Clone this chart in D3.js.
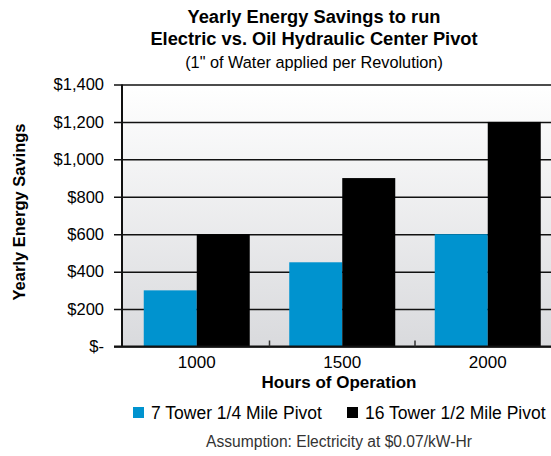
<!DOCTYPE html>
<html>
<head>
<meta charset="utf-8">
<script src="https://cdn.jsdelivr.net/npm/d3@7"></script>
<style>
  body { margin: 0; background: #fff; }
  text { font-family: "Liberation Sans", Arial, sans-serif; }
</style>
</head>
<body>
<div id="chart-area"></div>
<script>
// chart data
var categories = ["1000", "1500", "2000"];
var seriesNames = ["7 Tower 1/4 Mile Pivot", "16 Tower 1/2 Mile Pivot"];
var tower7 = [300, 450, 600];
var tower16 = [600, 900, 1200];
var yTicks = [0, 200, 400, 600, 800, 1000, 1200, 1400];
var colors = ["#0093cf", "#000000"];

var W = 551, H = 456;
var plotLeft = 122, plotTop = 84.5, plotBottom = 346.5;

var svg = d3.select("#chart-area")
  .append("svg")
  .attr("width", W)
  .attr("height", H);

var defs = svg.append("defs");
var grad = defs.append("linearGradient")
  .attr("id", "bg")
  .attr("x1", 0).attr("y1", 0).attr("x2", 0).attr("y2", 1);
grad.append("stop").attr("offset", "0%").attr("stop-color", "#ffffff");
grad.append("stop").attr("offset", "100%").attr("stop-color", "#d9dadd");

var x = d3.scaleBand().domain(categories).range([124, 560.5]);
var xInner = d3.scaleBand().domain([0, 1]).range([0, 106]);
var y = d3.scaleLinear().domain([0, 1400]).range([plotBottom, plotTop]);

// plot background
svg.append("rect")
  .attr("x", plotLeft).attr("y", plotTop)
  .attr("width", W - plotLeft).attr("height", plotBottom - plotTop)
  .attr("fill", "url(#bg)");

// gridlines + y axis
var yAxisCall = d3.axisLeft(y)
  .tickValues(yTicks)
  .tickSize(-(W - plotLeft + 8))
  .tickPadding(10)
  .tickFormat(function (d) { return d === 0 ? "$-" : d3.format("$,")(d); });

var yAxis = svg.append("g")
  .attr("class", "y-axis")
  .attr("transform", "translate(" + (plotLeft - 8) + ",0)")
  .call(yAxisCall);
yAxis.select(".domain").remove();
yAxis.selectAll("line")
  .attr("stroke", "#111")
  .attr("stroke-width", 1.5);
yAxis.selectAll("text")
  .attr("font-size", "16.5px")
  .attr("fill", "#000");

// bars
var data = categories.map(function (c, i) {
  return { cat: c, values: [tower7[i], tower16[i]] };
});
var groups = svg.selectAll(".grp").data(data).enter().append("g")
  .attr("class", "grp")
  .attr("transform", function (d) {
    return "translate(" + (x(d.cat) + x.bandwidth() / 2 - 53) + ",0)";
  });
groups.selectAll("rect")
  .data(function (d) { return d.values; })
  .enter().append("rect")
  .attr("x", function (d, i) { return xInner(i); })
  .attr("y", function (d) { return y(d); })
  .attr("width", xInner.bandwidth())
  .attr("height", function (d) { return plotBottom - y(d); })
  .attr("fill", function (d, i) { return colors[i]; });

// left axis line
svg.append("line")
  .attr("x1", plotLeft).attr("x2", plotLeft)
  .attr("y1", plotTop).attr("y2", plotBottom)
  .attr("stroke", "#111").attr("stroke-width", 2);

// x axis
var xAxisCall = d3.axisBottom(x).tickSize(0).tickPadding(9);
var xAxis = svg.append("g")
  .attr("class", "x-axis")
  .attr("transform", "translate(0," + plotBottom + ")")
  .call(xAxisCall);
xAxis.select(".domain").remove();
xAxis.selectAll("text").attr("font-size", "17px").attr("fill", "#000");

svg.append("line")
  .attr("x1", plotLeft - 8).attr("x2", W)
  .attr("y1", plotBottom).attr("y2", plotBottom)
  .attr("stroke", "#111").attr("stroke-width", 2);

// separator ticks between categories
svg.selectAll(".sep").data(categories.slice(1)).enter().append("line")
  .attr("class", "sep")
  .attr("x1", function (d) { return x(d); })
  .attr("x2", function (d) { return x(d); })
  .attr("y1", plotBottom).attr("y2", plotBottom - 6)
  .attr("stroke", "#333").attr("stroke-width", 1.5);

// titles
svg.append("text")
  .attr("x", 314).attr("y", 23)
  .attr("text-anchor", "middle")
  .attr("font-size", "18.3px").attr("font-weight", "bold")
  .text("Yearly Energy Savings to run");
svg.append("text")
  .attr("x", 314).attr("y", 45)
  .attr("text-anchor", "middle")
  .attr("font-size", "18.3px").attr("font-weight", "bold")
  .text("Electric vs. Oil Hydraulic Center Pivot");
svg.append("text")
  .attr("x", 314).attr("y", 68)
  .attr("text-anchor", "middle")
  .attr("font-size", "16.3px")
  .text("(1\" of Water applied per Revolution)");

svg.append("text")
  .attr("transform", "translate(25,212) rotate(-90)")
  .attr("text-anchor", "middle")
  .attr("font-size", "16.5px").attr("font-weight", "bold")
  .text("Yearly Energy Savings");

svg.append("text")
  .attr("x", 339).attr("y", 388)
  .attr("text-anchor", "middle")
  .attr("font-size", "17px").attr("font-weight", "bold")
  .text("Hours of Operation");

// legend
var legendX = [133, 347];
var legend = svg.selectAll(".leg").data(seriesNames).enter().append("g")
  .attr("class", "leg")
  .attr("transform", function (d, i) { return "translate(" + legendX[i] + ",407)"; });
legend.append("rect")
  .attr("width", 11).attr("height", 11)
  .attr("fill", function (d, i) { return colors[i]; });
legend.append("text")
  .attr("x", 18).attr("y", 11.5)
  .attr("font-size", "17.5px")
  .text(function (d) { return d; });

svg.append("text")
  .attr("x", 339).attr("y", 447)
  .attr("text-anchor", "middle")
  .attr("font-size", "15.6px")
  .attr("fill", "#333")
  .text("Assumption: Electricity at $0.07/kW-Hr");
</script>
</body>
</html>
